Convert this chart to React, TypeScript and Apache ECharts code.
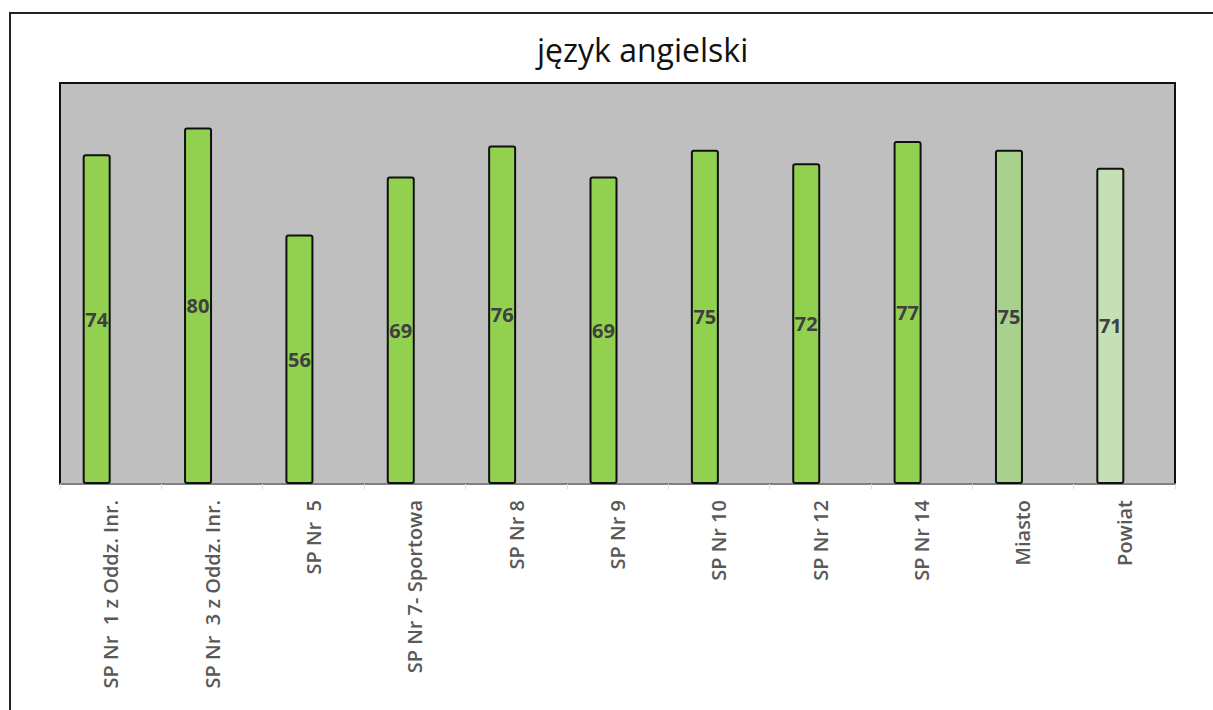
import React, { useEffect, useRef } from "react";
import * as echarts from "echarts";

const categories = [
  "SP Nr  1 z Oddz. Inr.",
  "SP Nr  3 z Oddz. Inr.",
  "SP Nr  5",
  "SP Nr 7- Sportowa",
  "SP Nr 8",
  "SP Nr 9",
  "SP Nr 10",
  "SP Nr 12",
  "SP Nr 14",
  "Miasto",
  "Powiat",
];
const values = [74, 80, 56, 69, 76, 69, 75, 72, 77, 75, 71];
const barColors = [
  "#92D050", "#92D050", "#92D050", "#92D050", "#92D050", "#92D050",
  "#92D050", "#92D050", "#92D050", "#A9D18E", "#C5E0B4",
];
const emptySeries = categories.map(() => null);
const titleText = "język angielski";

export default function App() {
  const ref = useRef<HTMLDivElement>(null);
  useEffect(() => {
    if (!ref.current) return;
    const chart = echarts.init(ref.current, null, { renderer: "svg" });
    chart.setOption({
      animation: false,
      backgroundColor: "#ffffff",
      title: {
        text: titleText,
        left: 532,
        top: 28,
        textStyle: {
          fontFamily: "Open Sans",
          fontSize: 32,
          fontWeight: "normal",
          color: "#111111",
        },
      },
      graphic: [
        {
          type: "rect",
          shape: { x: 10, y: 13, width: 1240, height: 720 },
          style: { fill: "none", stroke: "#222222", lineWidth: 2 },
          silent: true,
          z: -1,
        },
      ],
      grid: {
        left: 60,
        right: 38,
        top: 83,
        bottom: 226,
        show: true,
        backgroundColor: "#BFBFBF",
        borderColor: "#111111",
        borderWidth: 2,
        containLabel: false,
      },
      xAxis: {
        type: "category",
        data: categories,
        axisLine: { show: true, lineStyle: { color: "#A6A6A6", width: 1.5 } },
        axisTick: { show: true, length: 5, lineStyle: { color: "#D9D9D9" } },
        axisLabel: {
          rotate: 90,
          interval: 0,
          margin: 16,
          fontFamily: "Open Sans",
          fontSize: 20,
          fontWeight: 600,
          color: "#595959",
        },
      },
      yAxis: {
        type: "value",
        min: 0,
        max: 90,
        show: false,
        splitLine: { show: false },
      },
      series: [
        {
          type: "bar",
          barWidth: 28,
          barGap: "0%",
          data: values.map((v, i) => ({
            value: v,
            itemStyle: { color: barColors[i] },
          })),
          itemStyle: {
            borderColor: "#111111",
            borderWidth: 2,
            borderRadius: 2,
          },
          label: {
            show: true,
            position: "inside",
            fontFamily: "Open Sans",
            fontSize: 20,
            fontWeight: 700,
            color: "#404040",
          },
        },
        {
          type: "bar",
          barWidth: 28,
          data: emptySeries,
        },
      ],
    });
    return () => chart.dispose();
  }, []);
  return (
    <div
      ref={ref}
      style={{ position: "fixed", left: 0, top: 0, width: 1213, height: 710 }}
    />
  );
}
